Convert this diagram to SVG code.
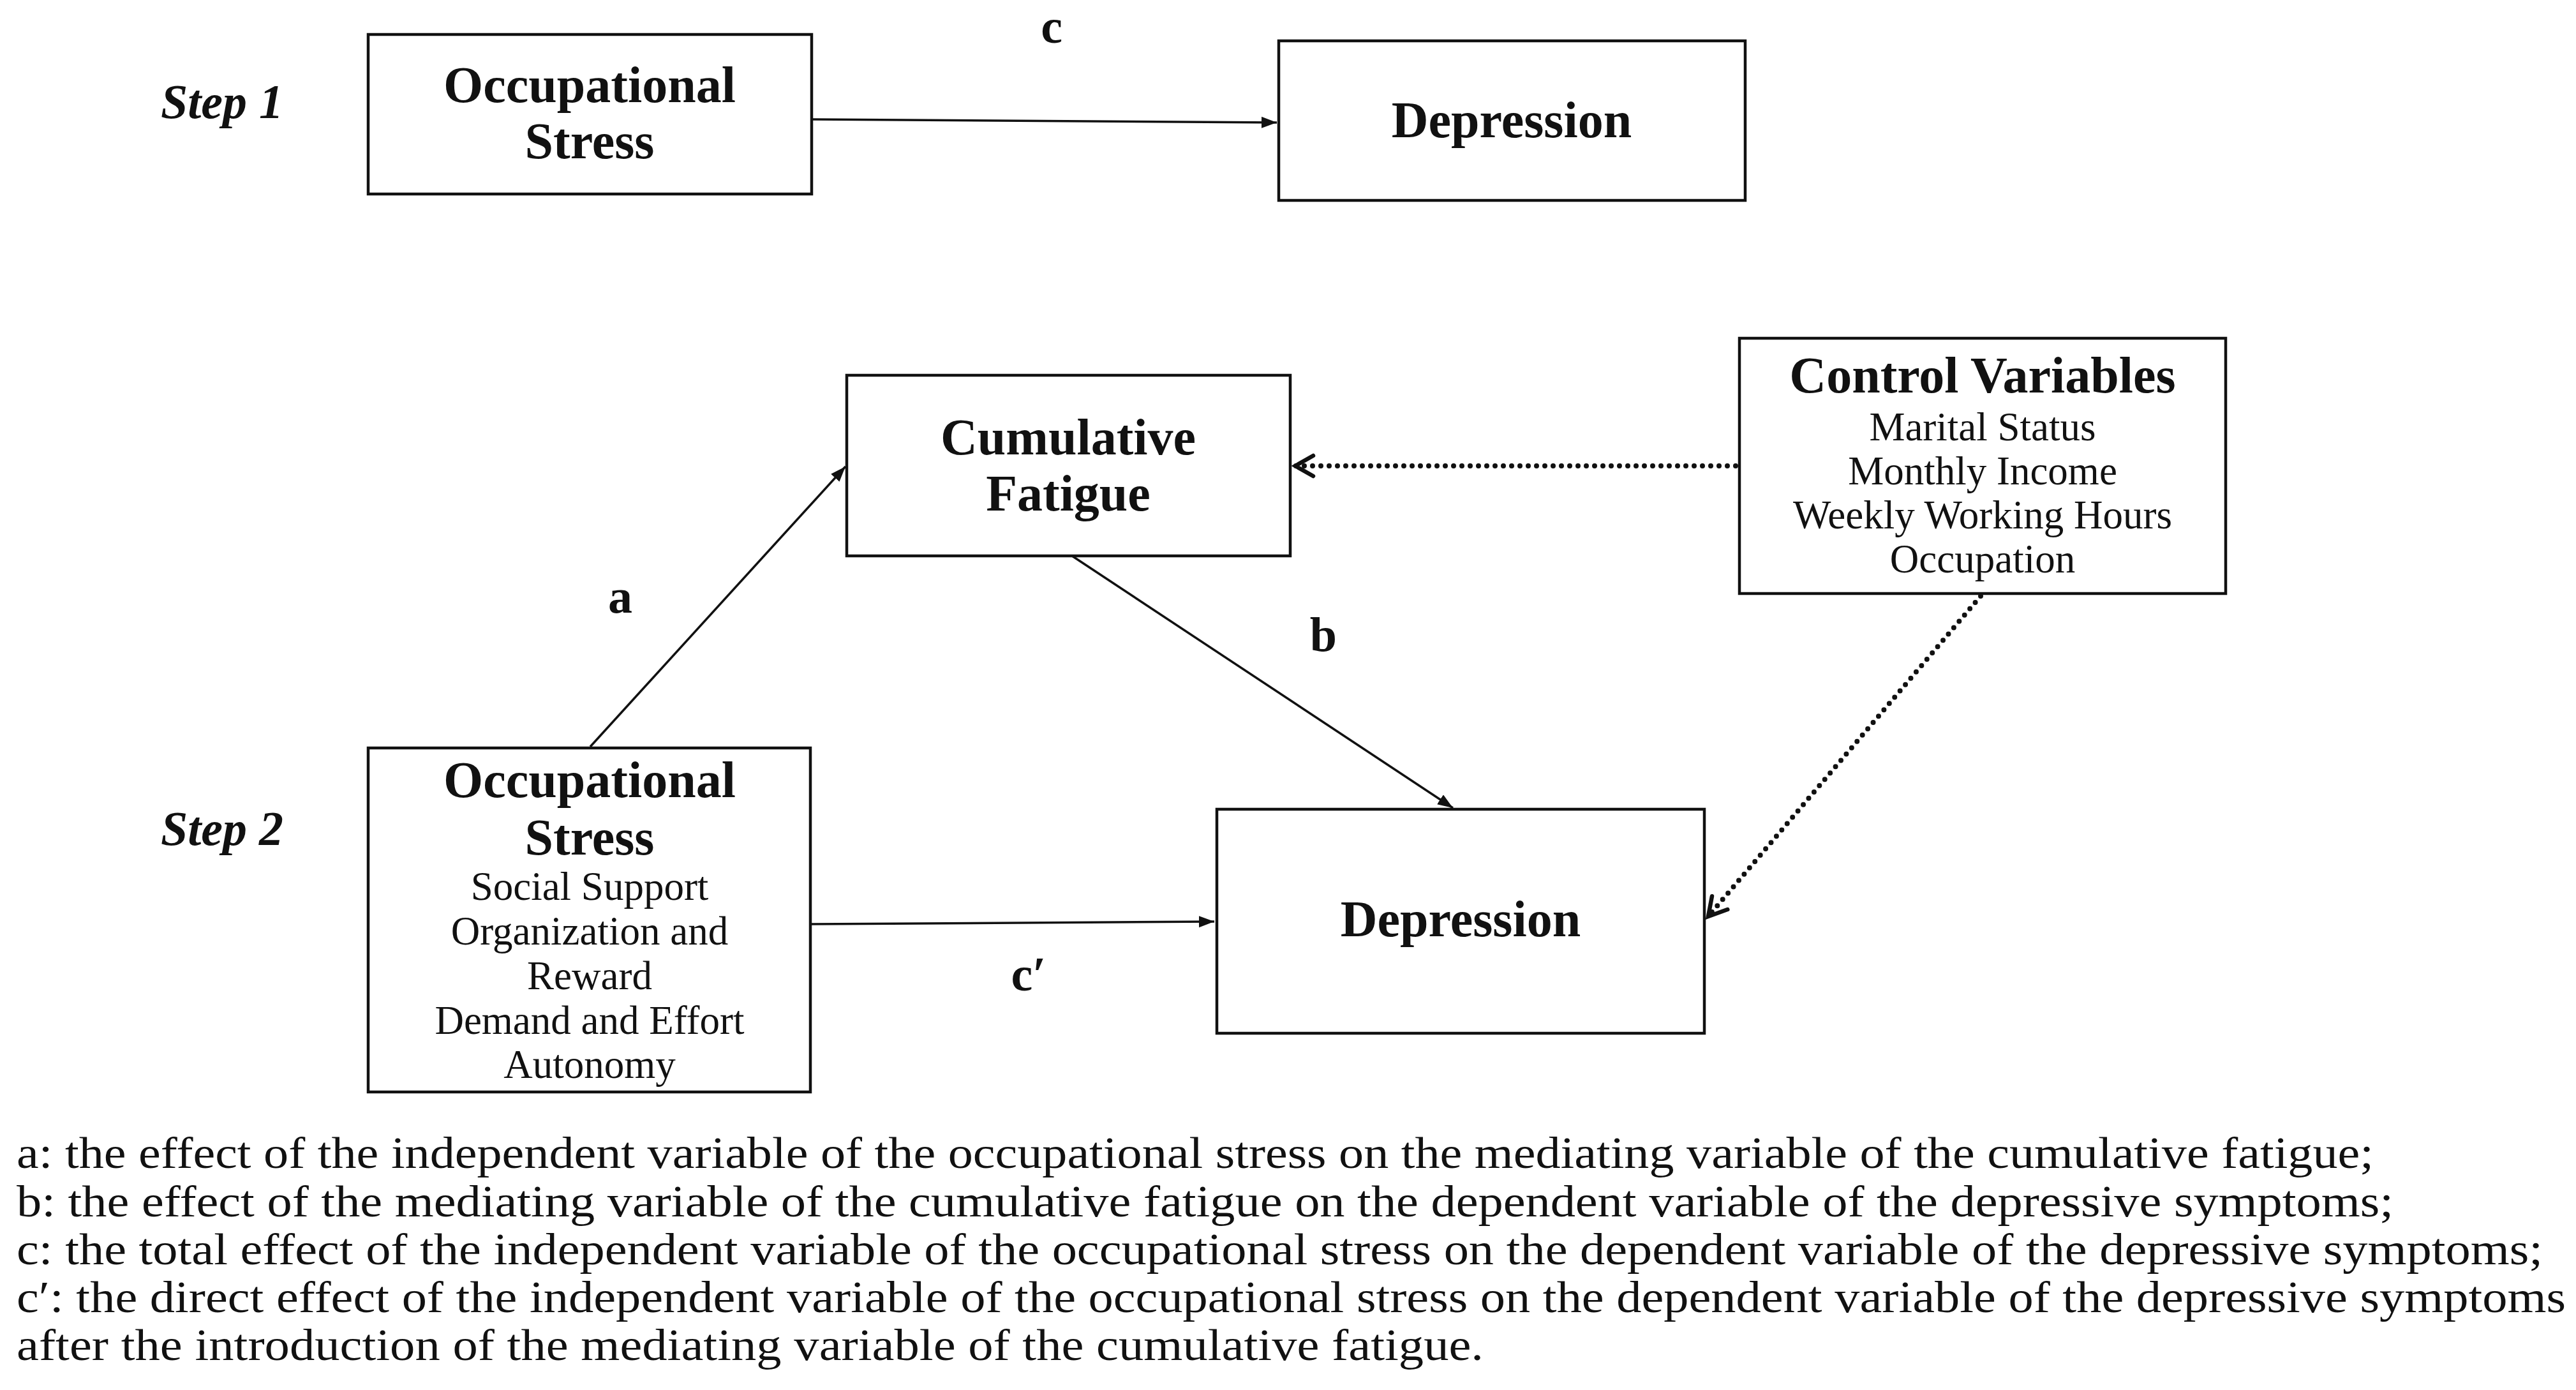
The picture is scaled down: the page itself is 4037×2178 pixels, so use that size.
<svg xmlns="http://www.w3.org/2000/svg" width="4037" height="2178" viewBox="0 0 4037 2178">
<style>
.box{fill:#fff;stroke:#111;stroke-width:4.5}
.t{font-family:"Liberation Serif","Times New Roman",serif;fill:#111;text-anchor:middle}
.b{font-weight:bold;font-size:80px}
.r{font-size:63px}
.step{font-style:italic;font-weight:bold;font-size:76px}
.lab{font-weight:bold;font-size:76px}
.fn{font-family:"Liberation Serif","Times New Roman",serif;fill:#111;font-size:70px}
.sol{stroke:#111;stroke-width:3.5;fill:none}
.dot{stroke:#111;stroke-width:8;fill:none;stroke-linecap:round;stroke-dasharray:0 13}
</style>
<defs>
<marker id="ah" markerUnits="userSpaceOnUse" markerWidth="28" markerHeight="20" refX="24" refY="9" orient="auto">
<path d="M0,0 L24,9 L0,18 z" fill="#111"/>
</marker>
<marker id="oh" markerUnits="userSpaceOnUse" markerWidth="40" markerHeight="44" refX="34" refY="22" orient="auto">
<path d="M6,6 L34,22 L6,38" fill="none" stroke="#111" stroke-width="6.5" stroke-linecap="round"/>
</marker>
</defs>
<rect width="4037" height="2178" fill="#fff"/>
<g id="connectors">
<line class="sol" x1="1273" y1="187" x2="2001" y2="192" marker-end="url(#ah)"/>
<line class="sol" x1="925" y1="1170" x2="1325" y2="731" marker-end="url(#ah)"/>
<line class="sol" x1="1680" y1="871" x2="2277" y2="1266" marker-end="url(#ah)"/>
<line class="sol" x1="1270" y1="1448" x2="1903" y2="1444" marker-end="url(#ah)"/>
<line class="dot" x1="2720" y1="730" x2="2030" y2="730" marker-end="url(#oh)"/>
<line class="dot" x1="3104" y1="934" x2="2677" y2="1436" marker-end="url(#oh)"/>
</g>
<g id="step1"><text class="t step" x="348" y="185">Step 1</text></g>
<g id="step2"><text class="t step" x="348" y="1324">Step 2</text></g>
<g id="label-c"><text class="t lab" x="1648" y="67">c</text></g>
<g id="label-a"><text class="t lab" x="972" y="960">a</text></g>
<g id="label-b"><text class="t lab" x="2074" y="1020">b</text></g>
<g id="label-cprime"><text class="t lab" x="1612" y="1552">c′</text></g>
<g id="occ-stress-1">
<rect class="box" x="577" y="54" width="695" height="250"/>
<text class="t b" x="924" y="160">Occupational</text>
<text class="t b" x="924" y="248">Stress</text>
</g>
<g id="depression-1">
<rect class="box" x="2004" y="64" width="731" height="250"/>
<text class="t b" x="2369" y="215">Depression</text>
</g>
<g id="cumulative-fatigue">
<rect class="box" x="1327" y="588" width="695" height="283"/>
<text class="t b" x="1674" y="712">Cumulative</text>
<text class="t b" x="1674" y="800">Fatigue</text>
</g>
<g id="control-variables">
<rect class="box" x="2726" y="530" width="762" height="400"/>
<text class="t b" x="3107" y="615">Control Variables</text>
<text class="t r" x="3107" y="690">Marital Status</text>
<text class="t r" x="3107" y="759">Monthly Income</text>
<text class="t r" x="3107" y="828">Weekly Working Hours</text>
<text class="t r" x="3107" y="897">Occupation</text>
</g>
<g id="occ-stress-2">
<rect class="box" x="577" y="1172" width="693" height="539"/>
<text class="t b" x="924" y="1249">Occupational</text>
<text class="t b" x="924" y="1339">Stress</text>
<text class="t r" x="924" y="1410">Social Support</text>
<text class="t r" x="924" y="1480">Organization and</text>
<text class="t r" x="924" y="1550">Reward</text>
<text class="t r" x="924" y="1620">Demand and Effort</text>
<text class="t r" x="924" y="1689">Autonomy</text>
</g>
<g id="depression-2">
<rect class="box" x="1907" y="1268" width="764" height="351"/>
<text class="t b" x="2289" y="1467">Depression</text>
</g>
<g id="footnote">
<text class="fn" x="26" y="1830" textLength="3694" lengthAdjust="spacingAndGlyphs">a: the effect of the independent variable of the occupational stress on the mediating variable of the cumulative fatigue;</text>
<text class="fn" x="26" y="1906" textLength="3725" lengthAdjust="spacingAndGlyphs">b: the effect of the mediating variable of the cumulative fatigue on the dependent variable of the depressive symptoms;</text>
<text class="fn" x="26" y="1981" textLength="3959" lengthAdjust="spacingAndGlyphs">c: the total effect of the independent variable of the occupational stress on the dependent variable of the depressive symptoms;</text>
<text class="fn" x="26" y="2056" textLength="3995" lengthAdjust="spacingAndGlyphs">c′: the direct effect of the independent variable of the occupational stress on the dependent variable of the depressive symptoms</text>
<text class="fn" x="26" y="2131" textLength="2299" lengthAdjust="spacingAndGlyphs">after the introduction of the mediating variable of the cumulative fatigue.</text>
</g>
</svg>
